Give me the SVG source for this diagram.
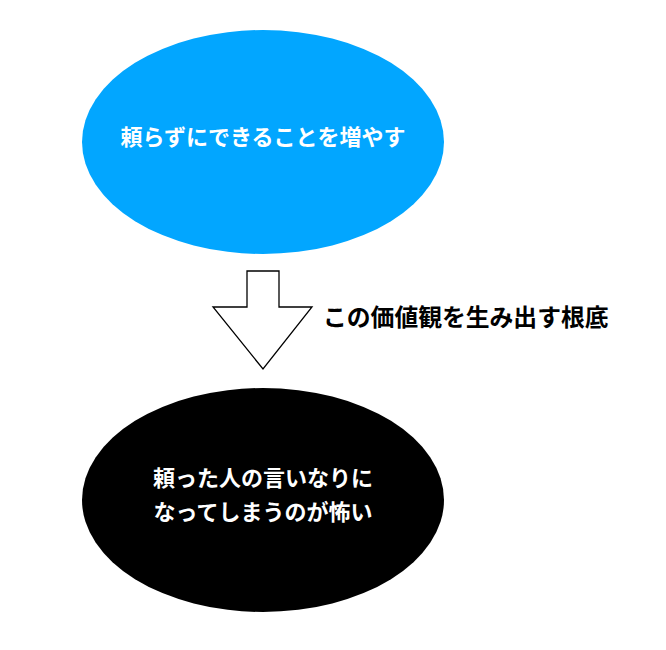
<svg xmlns="http://www.w3.org/2000/svg" width="666" height="650" viewBox="0 0 666 650">
<style>
.t{font-family:"Noto Sans CJK JP","Noto Sans CJK SC",sans-serif;font-weight:bold;font-size:22px;text-anchor:middle}
.w{fill:#ffffff}
.k{fill:#000000;text-anchor:start;font-size:23.8px}
</style>
<rect width="666" height="650" fill="#ffffff"/>
<g id="node-top">
<ellipse cx="263" cy="142" rx="181" ry="112" fill="#02a6ff"/>
<text class="t w" x="263" y="145">頼らずにできることを増やす</text>
</g>
<g id="node-bottom">
<ellipse cx="263" cy="500" rx="181" ry="112" fill="#000000"/>
<text class="t w" x="263" y="486">頼った人の言いなりに</text>
<text class="t w" x="263" y="520">なってしまうのが怖い</text>
</g>
<g id="connectors">
<polygon points="247,271 279,271 279,307 312,307 263,369 213,307 247,307" fill="#ffffff" stroke="#000000" stroke-width="1.3"/>
<text class="t k" x="323" y="326">この価値観を生み出す根底</text>
</g>
</svg>
